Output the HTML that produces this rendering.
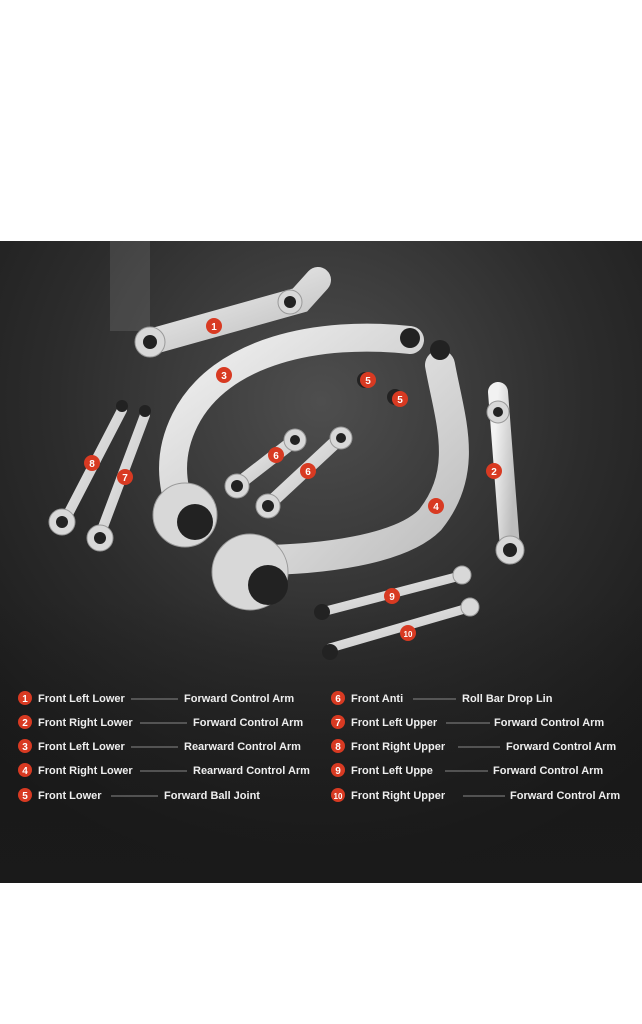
<!DOCTYPE html>
<html><head><style>
body{margin:0;width:642px;height:1024px;background:#fff;overflow:hidden;font-family:"Liberation Sans",sans-serif}
svg{position:absolute;left:0;top:0}
</style></head><body>
<svg width="642" height="1024" viewBox="0 0 642 1024">
<defs>
<radialGradient id="bg" cx="0.5" cy="0.25" r="0.75">
<stop offset="0" stop-color="#4e4e4e"/><stop offset="0.55" stop-color="#2c2c2c"/><stop offset="1" stop-color="#181818"/>
</radialGradient>
<linearGradient id="fade" x1="0" y1="0" x2="0" y2="1"><stop offset="0" stop-color="#1a1a1a" stop-opacity="0"/><stop offset="1" stop-color="#1a1a1a" stop-opacity="0.8"/></linearGradient>
<linearGradient id="metal" x1="0" y1="0" x2="1" y2="1"><stop offset="0" stop-color="#f2f2f2"/><stop offset="1" stop-color="#bdbdbd"/></linearGradient>
</defs>
<rect x="0" y="241" width="642" height="642" fill="url(#bg)"/>
<rect x="0" y="600" width="642" height="283" fill="url(#fade)"/>
<g opacity="0.18" fill="#aaa">
<rect x="110" y="241" width="40" height="90"/>
</g>
<g fill="none" stroke="url(#metal)" stroke-linecap="round">
<path d="M150 342 L300 300 L318 280" stroke-width="26"/>
<path d="M410 340 C320 330 220 350 185 420 C165 460 175 490 180 510" stroke-width="28"/>
<path d="M440 365 C450 420 470 470 430 520 C400 550 320 560 255 560" stroke-width="30"/>
<path d="M498 392 L510 548" stroke-width="20"/>
<path d="M122 410 L65 520" stroke-width="10"/>
<path d="M145 415 L100 535" stroke-width="10"/>
<path d="M237 485 L295 440" stroke-width="13"/>
<path d="M268 505 L340 438" stroke-width="13"/>
<path d="M322 612 L460 576" stroke-width="9"/>
<path d="M330 648 L468 608" stroke-width="9"/>
</g>
<g fill="#d8d8d8" stroke="#999">
<circle cx="185" cy="515" r="32"/><circle cx="250" cy="572" r="38"/>
<circle cx="150" cy="342" r="15"/><circle cx="290" cy="302" r="12"/>
<circle cx="510" cy="550" r="14"/><circle cx="498" cy="412" r="11"/>
<circle cx="62" cy="522" r="13"/><circle cx="100" cy="538" r="13"/>
<circle cx="237" cy="486" r="12"/><circle cx="268" cy="506" r="12"/><circle cx="295" cy="440" r="11"/><circle cx="341" cy="438" r="11"/>
<circle cx="462" cy="575" r="9"/><circle cx="470" cy="607" r="9"/>
</g>
<g fill="#222">
<circle cx="195" cy="522" r="18"/><circle cx="268" cy="585" r="20"/>
<circle cx="150" cy="342" r="7"/><circle cx="290" cy="302" r="6"/><circle cx="510" cy="550" r="7"/><circle cx="498" cy="412" r="5"/>
<circle cx="62" cy="522" r="6"/><circle cx="100" cy="538" r="6"/>
<circle cx="237" cy="486" r="6"/><circle cx="268" cy="506" r="6"/><circle cx="295" cy="440" r="5"/><circle cx="341" cy="438" r="5"/>
<circle cx="410" cy="338" r="10"/><circle cx="440" cy="350" r="10"/>
<circle cx="122" cy="406" r="6"/><circle cx="145" cy="411" r="6"/>
<circle cx="322" cy="612" r="8"/><circle cx="330" cy="652" r="8"/>
<circle cx="365" cy="380" r="8"/><circle cx="395" cy="397" r="8"/>
</g>
<g font-size="10" font-weight="bold" fill="#fff" text-anchor="middle">
<g><circle cx="214" cy="326" r="8" fill="#d83a22"/><text x="214" y="330">1</text></g>
<g><circle cx="494" cy="471" r="8" fill="#d83a22"/><text x="494" y="475">2</text></g>
<g><circle cx="224" cy="375" r="8" fill="#d83a22"/><text x="224" y="379">3</text></g>
<g><circle cx="436" cy="506" r="8" fill="#d83a22"/><text x="436" y="510">4</text></g>
<g><circle cx="368" cy="380" r="8" fill="#d83a22"/><text x="368" y="384">5</text></g>
<g><circle cx="400" cy="399" r="8" fill="#d83a22"/><text x="400" y="403">5</text></g>
<g><circle cx="276" cy="455" r="8" fill="#d83a22"/><text x="276" y="459">6</text></g>
<g><circle cx="308" cy="471" r="8" fill="#d83a22"/><text x="308" y="475">6</text></g>
<g><circle cx="125" cy="477" r="8" fill="#d83a22"/><text x="125" y="481">7</text></g>
<g><circle cx="92" cy="463" r="8" fill="#d83a22"/><text x="92" y="467">8</text></g>
<g><circle cx="392" cy="596" r="8" fill="#d83a22"/><text x="392" y="600">9</text></g>
<g><circle cx="408" cy="633" r="8" fill="#d83a22"/><text x="408" y="637" font-size="8">10</text></g>
</g>
<g font-size="11" font-weight="bold" fill="#eee">
<g fill="#d83a22"><circle cx="25" cy="698" r="7"/><circle cx="25" cy="722" r="7"/><circle cx="25" cy="746" r="7"/><circle cx="25" cy="770" r="7"/><circle cx="25" cy="795" r="7"/>
<circle cx="338" cy="698" r="7"/><circle cx="338" cy="722" r="7"/><circle cx="338" cy="746" r="7"/><circle cx="338" cy="770" r="7"/><circle cx="338" cy="795" r="7"/></g>
<g fill="#fff" font-size="10" text-anchor="middle">
<text x="25" y="702">1</text><text x="25" y="726">2</text><text x="25" y="750">3</text><text x="25" y="774">4</text><text x="25" y="799">5</text>
<text x="338" y="702">6</text><text x="338" y="726">7</text><text x="338" y="750">8</text><text x="338" y="774">9</text><text x="338" y="799" font-size="8">10</text>
</g>
<g stroke="#888" stroke-width="1">
<line x1="131" y1="699" x2="178" y2="699"/><line x1="140" y1="723" x2="187" y2="723"/><line x1="131" y1="747" x2="178" y2="747"/><line x1="140" y1="771" x2="187" y2="771"/><line x1="111" y1="796" x2="158" y2="796"/>
<line x1="413" y1="699" x2="456" y2="699"/><line x1="446" y1="723" x2="490" y2="723"/><line x1="458" y1="747" x2="500" y2="747"/><line x1="445" y1="771" x2="488" y2="771"/><line x1="463" y1="796" x2="505" y2="796"/>
</g>
<text x="38" y="702">Front Left Lower</text><text x="184" y="702">Forward Control Arm</text>
<text x="38" y="726">Front Right Lower</text><text x="193" y="726">Forward Control Arm</text>
<text x="38" y="750">Front Left Lower</text><text x="184" y="750">Rearward Control Arm</text>
<text x="38" y="774">Front Right Lower</text><text x="193" y="774">Rearward Control Arm</text>
<text x="38" y="799">Front Lower</text><text x="164" y="799">Forward Ball Joint</text>
<text x="351" y="702">Front Anti</text><text x="462" y="702">Roll Bar Drop Lin</text>
<text x="351" y="726">Front Left Upper</text><text x="494" y="726">Forward Control Arm</text>
<text x="351" y="750">Front Right Upper</text><text x="506" y="750">Forward Control Arm</text>
<text x="351" y="774">Front Left Uppe</text><text x="493" y="774">Forward Control Arm</text>
<text x="351" y="799">Front Right Upper</text><text x="510" y="799">Forward Control Arm</text>
</g>
</svg>
</body></html>
